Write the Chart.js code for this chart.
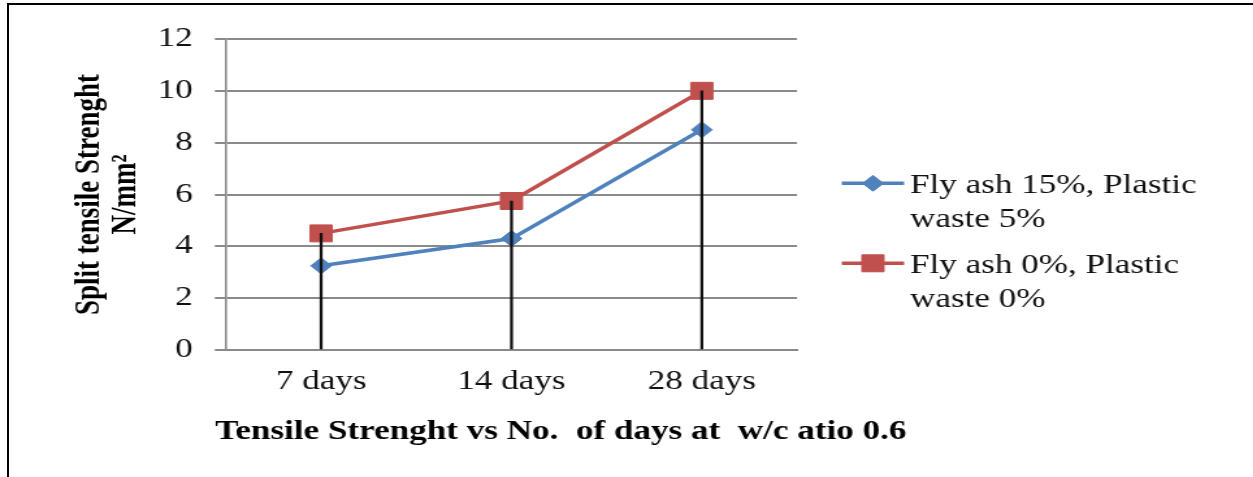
<!DOCTYPE html>
<html>
<head>
<meta charset="utf-8">
<title>Split tensile strength vs curing age</title>
<script src="https://cdn.jsdelivr.net/npm/chart.js@4.4.1/dist/chart.umd.min.js"></script>
<style>
  html, body { margin: 0; padding: 0; background: #fff; overflow: hidden; }
  body { width: 1253px; height: 477px; position: relative; }
  /* the figure is laid out narrow and widened horizontally */
  #stage { position: absolute; left: 0; top: 0; width: 964px; height: 477px;
           transform: scaleX(1.3); transform-origin: 0 0; }
  #frame { position: absolute; left: 7px; top: 3px; right: 0; bottom: 0;
           border-left: 2px solid #000; border-top: 2px solid #000; pointer-events: none; }
</style>
</head>
<body>
<div id="stage"><canvas id="chart"></canvas></div>
<div id="frame"></div>
<script>
// ---- data ----
const categories = ['7 days', '14 days', '28 days'];
const mixStrength = [3.25, 4.3, 8.5];        // fly ash 15 %, plastic waste 5 %
const controlStrength = [4.5, 5.75, 10];     // fly ash 0 %, plastic waste 0 %
const mixLegend = ['Fly ash 15%, Plastic', 'waste 5%'];
const controlLegend = ['Fly ash 0%, Plastic', 'waste 0%'];
const yAxisTitle = ['Split tensile Strenght', 'N/mm\u00B2'];
const caption = 'Tensile Strenght vs No.  of days at  w/c atio 0.6';
const yMin = 0, yMax = 12, yStep = 2;

// drop lines reach up to the higher of the two series at each age
const dropTop = categories.map((_, i) => Math.max(mixStrength[i], controlStrength[i]));

const FONT = '"Liberation Serif", "Times New Roman", Times, serif';
Chart.defaults.font.family = FONT;

const BLUE = '#4F81BD';
const RED = '#C0504D';
const GRID = '#8a8a8a';
const TEXT = '#111';

// Legend at the right: a line with its marker, followed by a two-line label
const sideLegend = {
  id: 'sideLegend',
  afterDraw(chart, args, opts) {
    const ctx = chart.ctx;
    ctx.save();
    let k = 0;
    chart.data.datasets.forEach((ds) => {
      if (!ds.legendLines) return;
      const y = opts.top + k * opts.itemGap;
      ctx.strokeStyle = ds.borderColor;
      ctx.lineWidth = ds.borderWidth;
      ctx.beginPath();
      ctx.moveTo(opts.x, y);
      ctx.lineTo(opts.x + opts.lineLength, y);
      ctx.stroke();
      ctx.fillStyle = ds.pointBackgroundColor;
      ctx.strokeStyle = ds.pointBorderColor;
      ctx.lineWidth = ds.pointBorderWidth;
      Chart.helpers.drawPoint(ctx, {
        pointStyle: ds.pointStyle, radius: ds.pointRadius, rotation: 0, borderWidth: ds.pointBorderWidth
      }, opts.x + opts.lineLength / 2, y);
      ctx.fillStyle = TEXT;
      ctx.font = '27px ' + FONT;
      ctx.textAlign = 'left';
      ctx.textBaseline = 'alphabetic';
      ds.legendLines.forEach((line, j) => {
        ctx.fillText(line, opts.textX, y + opts.baselineShift + j * opts.lineGap);
      });
      k++;
    });
    ctx.restore();
  }
};

// Caption starts a little left of the plot area and may run past it
const captionShift = {
  id: 'captionShift',
  afterLayout(chart, args, opts) {
    if (chart.titleBlock) {
      chart.titleBlock.left = chart.chartArea.left - opts.shift;
      chart.titleBlock.right = chart.width;
    }
  }
};

new Chart(document.getElementById('chart'), {
  type: 'line',
  data: {
    labels: categories,
    datasets: [
      {
        type: 'bar',
        label: 'drop lines',
        data: dropTop,
        backgroundColor: '#111',
        borderWidth: 0,
        barThickness: 1.6,
        order: 0
      },
      {
        label: mixLegend.join(' '),
        legendLines: mixLegend,
        data: mixStrength,
        borderColor: BLUE,
        backgroundColor: BLUE,
        borderWidth: 3.5,
        tension: 0,
        pointStyle: 'rectRot',
        pointRadius: 8,
        pointBackgroundColor: BLUE,
        pointBorderColor: BLUE,
        pointBorderWidth: 1,
        order: 2
      },
      {
        label: controlLegend.join(' '),
        legendLines: controlLegend,
        data: controlStrength,
        borderColor: RED,
        backgroundColor: RED,
        borderWidth: 3.5,
        tension: 0,
        pointStyle: 'rect',
        pointRadius: 12,
        pointBackgroundColor: RED,
        pointBorderColor: RED,
        pointBorderWidth: 1,
        order: 1
      }
    ]
  },
  options: {
    responsive: true,
    maintainAspectRatio: false,
    animation: false,
    events: [],
    layout: { padding: { left: 10, right: 350.9, top: 39, bottom: 29 } },
    scales: {
      x: {
        offset: true,
        grid: { display: false, drawTicks: false, tickLength: 0 },
        border: { display: true, color: GRID, width: 2 },
        ticks: { color: TEXT, font: { size: 27, lineHeight: 1.2 }, padding: 16, maxRotation: 0, autoSkip: false },
        afterFit(scale) { scale.height = 60; }
      },
      y: {
        min: yMin,
        max: yMax,
        grid: { color: GRID, lineWidth: 2, drawTicks: true, tickLength: 8.5 },
        border: { display: true, color: GRID, width: 1.6 },
        ticks: { stepSize: yStep, color: TEXT, font: { size: 27, lineHeight: 1.2 }, padding: 17 },
        title: {
          display: true,
          text: yAxisTitle,
          color: '#000',
          font: { size: 27, weight: 'bold', lineHeight: 1.03 },
          padding: { top: 45.3, bottom: 0 }
        },
        afterFit(scale) { scale.width = 163.8; }
      }
    },
    plugins: {
      legend: { display: false },
      tooltip: { enabled: false },
      title: {
        display: true,
        position: 'bottom',
        align: 'start',
        text: caption,
        color: '#000',
        font: { size: 27, weight: 'bold', lineHeight: 1.2 },
        padding: { top: 5.6, bottom: 0 }
      },
      captionShift: { shift: 8.4 },
      sideLegend: { x: 647.5, lineLength: 48, textX: 700, top: 183.3, itemGap: 80, lineGap: 34, baselineShift: 9.5 }
    }
  },
  plugins: [sideLegend, captionShift]
});
</script>
</body>
</html>
